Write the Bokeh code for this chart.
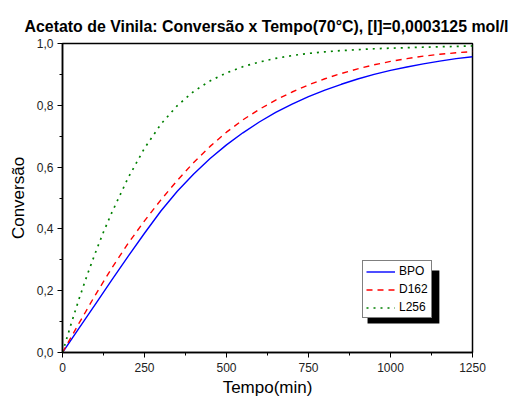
from bokeh.plotting import figure
from bokeh.models import Range1d, FixedTicker, Legend, LegendItem, BoxAnnotation
from bokeh.embed import file_html
from bokeh.resources import INLINE

title = "Acetato de Vinila: Conversão x Tempo(70°C), [I]=0,0003125 mol/l"

t_bpo = [0, 50, 100, 150, 200, 250, 300, 350, 400, 450, 500, 550, 600, 650, 700,
         750, 800, 850, 900, 950, 1000, 1050, 1100, 1150, 1200, 1250]
c_bpo = [0.0, 0.078, 0.156, 0.234, 0.311, 0.386, 0.458, 0.522, 0.578, 0.628, 0.672, 0.711,
         0.746, 0.777, 0.804, 0.828, 0.849, 0.868, 0.885, 0.9, 0.913, 0.924, 0.934,
         0.943, 0.951, 0.957]

t_d162 = [0, 50, 100, 150, 200, 250, 300, 350, 400, 450, 500, 550, 600, 650, 700,
          750, 800, 850, 900, 950, 1000, 1050, 1100, 1150, 1200, 1250]
c_d162 = [0.0, 0.094, 0.186, 0.273, 0.353, 0.426, 0.494, 0.557, 0.615, 0.667, 0.713, 0.753,
          0.787, 0.817, 0.843, 0.866, 0.886, 0.903, 0.918, 0.931, 0.942, 0.951, 0.959,
          0.965, 0.97, 0.974]

t_l256 = [0, 25, 50, 75, 100, 125, 150, 200, 250, 300, 350, 400, 450, 500, 550, 600,
          650, 700, 750, 800, 850, 900, 950, 1000, 1100, 1250]
c_l256 = [0.0, 0.088, 0.172, 0.25, 0.322, 0.39, 0.452, 0.565, 0.661, 0.739, 0.799, 0.845,
          0.879, 0.905, 0.925, 0.94, 0.952, 0.961, 0.968, 0.973, 0.977, 0.98, 0.983,
          0.985, 0.988, 0.992]

x_ticks = [0, 250, 500, 750, 1000, 1250]
x_minor = [125, 375, 625, 875, 1125]
y_ticks = [0.0, 0.2, 0.4, 0.6, 0.8, 1.0]
y_minor = [0.1, 0.3, 0.5, 0.7, 0.9]
y_tick_labels = ["0,0", "0,2", "0,4", "0,6", "0,8", "1,0"]
series_names = ["BPO", "D162", "L256"]

FONT = "Liberation Sans"

p = figure(width=511, height=401, output_backend="svg", toolbar_location=None,
           x_range=Range1d(0, 1250), y_range=Range1d(0, 1.0),
           min_border_left=62, min_border_right=39, min_border_top=43,
           min_border_bottom=49)
p.title.text = title
p.title.align = "left"
p.title.text_font = FONT
p.title.text_font_size = "15.9px"
p.title.text_font_style = "bold"
p.title.text_color = "#000000"
p.title.offset = -38
p.title.standoff = 18

p.grid.visible = False
p.outline_line_color = "#000000"
p.outline_line_width = 1.5
p.outline_line_alpha = 1.0
p.background_fill_color = "white"
p.border_fill_color = "white"

for ax in (p.xaxis[0], p.yaxis[0]):
    ax.axis_line_color = "#000000"
    ax.axis_line_width = 1.5
    ax.major_tick_line_color = "#000000"
    ax.minor_tick_line_color = "#000000"
    ax.major_tick_line_width = 1
    ax.minor_tick_line_width = 1
    ax.major_tick_out = 5
    ax.major_tick_in = 0
    ax.minor_tick_out = 3
    ax.minor_tick_in = 0
    ax.major_label_text_font = FONT
    ax.major_label_text_font_size = "12px"
    ax.major_label_text_color = "#222222"
    ax.axis_label_text_font = FONT
    ax.axis_label_text_font_size = "17px"
    ax.axis_label_text_font_style = "normal"
    ax.axis_label_text_color = "#000000"

p.xaxis[0].ticker = FixedTicker(ticks=x_ticks, minor_ticks=x_minor)
p.yaxis[0].ticker = FixedTicker(ticks=y_ticks, minor_ticks=y_minor)
p.yaxis[0].major_label_overrides = {v: s for v, s in zip(y_ticks, y_tick_labels)}
p.xaxis[0].axis_label = "Tempo(min)"
p.yaxis[0].axis_label = "Conversão"
p.xaxis[0].major_label_standoff = 5
p.yaxis[0].major_label_standoff = 4
p.xaxis[0].axis_label_standoff = 3
p.yaxis[0].axis_label_standoff = 6

r1 = p.line(t_bpo, c_bpo, line_color="#0000FF", line_width=1.4)
r2 = p.line(t_d162, c_d162, line_color="#FF0000", line_width=1.4, line_dash="6 5")
r3 = p.line(t_l256, c_l256, line_color="#008000", line_width=1.7, line_dash="2 5")

# legend drop shadow (offset box behind legend)
shadow = BoxAnnotation(left=930, right=1149, top=0.265, bottom=0.094,
                       fill_color="black", fill_alpha=1.0, line_alpha=0)
p.add_layout(shadow)

legend = Legend(items=[LegendItem(label=n, renderers=[r])
                       for n, r in zip(series_names, [r1, r2, r3])],
                location=(300, 34))
legend.border_line_color = "#000000"
legend.border_line_width = 1
legend.background_fill_color = "white"
legend.background_fill_alpha = 1.0
legend.label_text_font = FONT
legend.label_text_font_size = "12px"
legend.label_text_color = "#000000"
legend.padding = 3
legend.spacing = 4
legend.margin = 0
legend.glyph_width = 29
legend.glyph_height = 13
legend.label_height = 13
legend.label_standoff = 4
p.add_layout(legend, "center")

open("out.html", "w").write(file_html(p, INLINE))
